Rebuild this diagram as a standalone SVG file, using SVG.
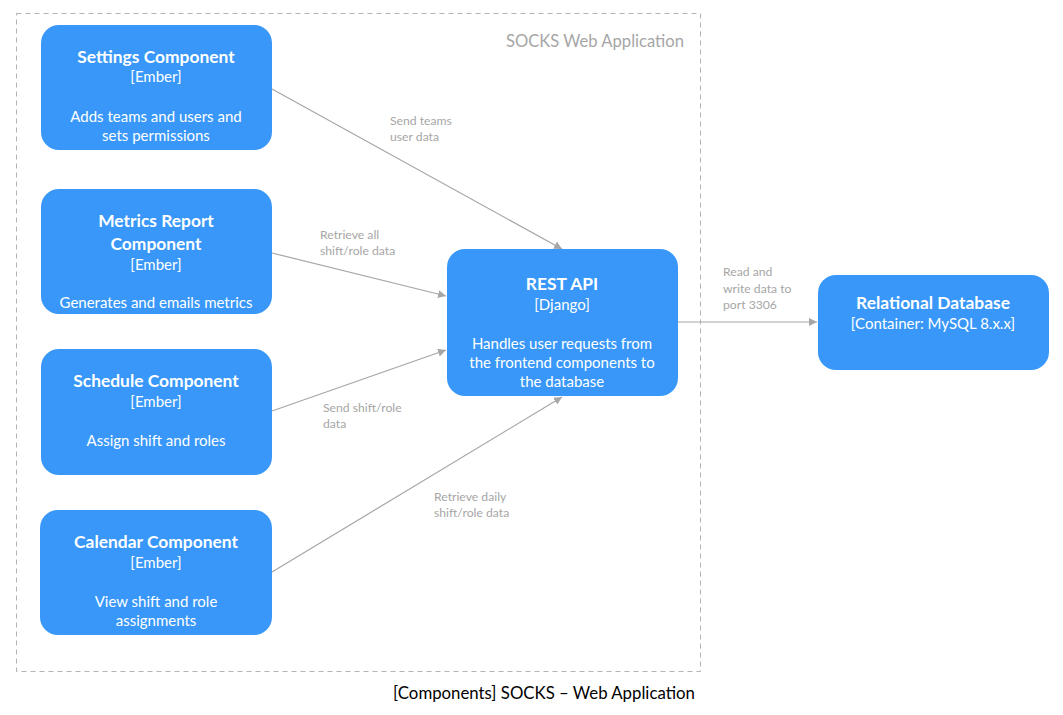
<svg xmlns="http://www.w3.org/2000/svg" width="1063" height="715" viewBox="0 0 1063 715">
<style>
.box{fill:#3897f8;}
.t{font-family:Lato,"Liberation Sans",sans-serif;fill:#fff;text-anchor:middle;font-size:15px;}
.b{font-weight:bold;font-size:17.4px;}
.lbl{font-family:Lato,"Liberation Sans",sans-serif;fill:#a6a6a6;font-size:12.2px;}
.con{stroke:#a6a6a6;stroke-width:1.2;fill:none;marker-end:url(#ah);}
</style>
<defs>
<marker id="ah" viewBox="0 0 10 10" refX="10" refY="5" markerWidth="8" markerHeight="8" markerUnits="userSpaceOnUse" orient="auto">
<path d="M0,0 L10,5 L0,10 Z" fill="#a6a6a6"/>
</marker>
</defs>
<rect width="1063" height="715" fill="#fff"/>
<g id="boundary">
<rect x="16.5" y="13.5" width="684" height="658" fill="none" stroke="#b3b3b3" stroke-width="1" stroke-dasharray="5,4"/>
<text x="684" y="47" text-anchor="end" font-family="Lato,'Liberation Sans',sans-serif" font-size="16.6" fill="#a6a6a6">SOCKS Web Application</text>
</g>
<g id="connectors">
<line class="con" x1="272" y1="89" x2="562" y2="249"/>
<line class="con" x1="272" y1="253" x2="446" y2="296"/>
<line class="con" x1="272" y1="411" x2="446" y2="350"/>
<line class="con" x1="272" y1="572" x2="562" y2="397"/>
<line class="con" x1="678" y1="322" x2="817" y2="322"/>
<text class="lbl"><tspan x="390" y="125">Send teams</tspan><tspan x="390" y="141">user data</tspan></text>
<text class="lbl"><tspan x="320" y="239">Retrieve all</tspan><tspan x="320" y="255">shift/role data</tspan></text>
<text class="lbl"><tspan x="323" y="412">Send shift/role</tspan><tspan x="323" y="428">data</tspan></text>
<text class="lbl"><tspan x="434" y="501">Retrieve daily</tspan><tspan x="434" y="517">shift/role data</tspan></text>
<text class="lbl"><tspan x="723" y="276">Read and</tspan><tspan x="723" y="293">write data to</tspan><tspan x="723" y="309">port 3306</tspan></text>
</g>
<g id="settings">
<rect class="box" x="41" y="25" width="231" height="125" rx="18"/>
<text class="t b" x="156" y="63">Settings Component</text>
<text class="t" x="156" y="82">[Ember]</text>
<text class="t" x="156" y="122">Adds teams and users and</text>
<text class="t" x="156" y="141">sets permissions</text>
</g>
<g id="metrics">
<rect class="box" x="41" y="189" width="231" height="125" rx="18"/>
<text class="t b" x="156" y="227">Metrics Report</text>
<text class="t b" x="156" y="250">Component</text>
<text class="t" x="156" y="270">[Ember]</text>
<text class="t" x="156" y="308">Generates and emails metrics</text>
</g>
<g id="schedule">
<rect class="box" x="41" y="349" width="231" height="126" rx="18"/>
<text class="t b" x="156" y="387">Schedule Component</text>
<text class="t" x="156" y="407">[Ember]</text>
<text class="t" x="156" y="446">Assign shift and roles</text>
</g>
<g id="calendar">
<rect class="box" x="40" y="510" width="232" height="125" rx="18"/>
<text class="t b" x="156" y="548">Calendar Component</text>
<text class="t" x="156" y="568">[Ember]</text>
<text class="t" x="156" y="607">View shift and role</text>
<text class="t" x="156" y="626">assignments</text>
</g>
<g id="restapi">
<rect class="box" x="447" y="249" width="231" height="147" rx="18"/>
<text class="t b" x="562" y="290">REST API</text>
<text class="t" x="562" y="310">[Django]</text>
<text class="t" x="562" y="349">Handles user requests from</text>
<text class="t" x="562" y="368">the frontend components to</text>
<text class="t" x="562" y="387">the database</text>
</g>
<g id="database">
<rect class="box" x="818" y="275" width="231" height="95" rx="18"/>
<text class="t b" x="933" y="309">Relational Database</text>
<text class="t" x="933" y="329">[Container: MySQL 8.x.x]</text>
</g>
<text x="544" y="699" text-anchor="middle" font-family="Lato,'Liberation Sans',sans-serif" font-size="16.8" fill="#000">[Components] SOCKS – Web Application</text>
</svg>
